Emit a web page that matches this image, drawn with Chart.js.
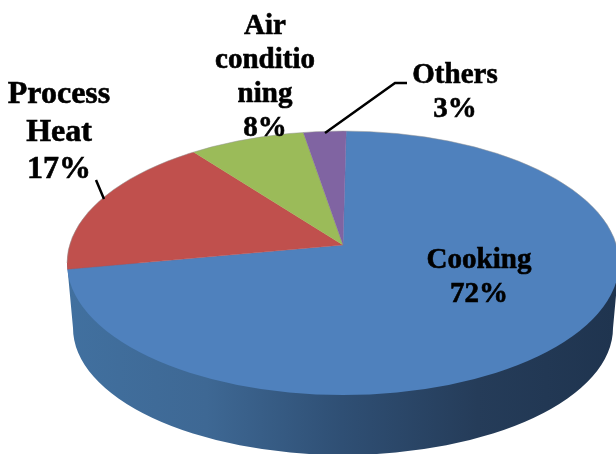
<!DOCTYPE html>
<html>
<head>
<meta charset="utf-8">
<style>
  html, body { margin: 0; padding: 0; background: #fff; }
  #wrap { position: relative; width: 616px; height: 454px; overflow: hidden; }
</style>
<script src="https://cdn.jsdelivr.net/npm/chart.js@4/dist/chart.umd.min.js"></script>
</head>
<body>
<div id="wrap"><canvas id="chart_pie" width="616" height="454"></canvas></div>
<script>
/* ------------------
  data
-------------------*/
var categories = ['Cooking', 'Process Heat', 'Air conditioning', 'Others'];
var shares = [72, 17, 8, 3];
var sliceColors = ['#4f81bd', '#c0504d', '#9bbb59', '#8064a2'];

// the text wrapped the way the picture wraps it
var cookingLines = ['Cooking', '72%'];
var processLines = ['Process', 'Heat', '17%'];
var airLines = ['Air', 'conditio', 'ning', '8%'];
var othersLines = ['Others', '3%'];

/* ------------------
  fake 3d look
-------------------*/
var tilt = 0.5;                                     // squash of the pie
var topFace = { x: 343, y: 263, rx: 276, ry: 132 }; // visible rim of the pie
var baseFace = { x: 343, y: 328, rx: 270, ry: 127 };

var pie3d = {
  id: 'pie3d',
  beforeDatasetsDraw: function (chart) {
    var ctx = chart.ctx;
    var arc = chart.getDatasetMeta(0).data[0];

    // side wall
    var wall = ctx.createLinearGradient(70, 0, 614, 0);
    wall.addColorStop(0, '#41709f');
    wall.addColorStop(0.25, '#3e6894');
    wall.addColorStop(0.5, '#2f4f74');
    wall.addColorStop(0.75, '#253c59');
    wall.addColorStop(1, '#1f344f');
    ctx.save();
    ctx.beginPath();
    ctx.moveTo(topFace.x - topFace.rx, topFace.y);
    ctx.lineTo(baseFace.x - baseFace.rx, baseFace.y);
    ctx.ellipse(baseFace.x, baseFace.y, baseFace.rx, baseFace.ry, 0, Math.PI, 0, true);
    ctx.lineTo(topFace.x + topFace.rx, topFace.y);
    ctx.closePath();
    ctx.fillStyle = wall;
    ctx.fill();
    ctx.restore();

    // slices: apex sits above the rim centre, the rim cuts them off
    ctx.save();
    ctx.beginPath();
    ctx.ellipse(topFace.x, topFace.y, topFace.rx, topFace.ry, 0, 0, Math.PI * 2);
    ctx.clip();
    ctx.translate(arc.x, arc.y);
    ctx.scale(1, tilt);
    ctx.translate(-arc.x, -arc.y);
  },
  afterDatasetsDraw: function (chart) {
    var ctx = chart.ctx;
    ctx.restore();

    // soft grey rim on the back edge
    ctx.save();
    ctx.beginPath();
    ctx.ellipse(topFace.x, topFace.y, topFace.rx, topFace.ry, 0, Math.PI, 0);
    ctx.strokeStyle = 'rgba(150,150,150,0.5)';
    ctx.lineWidth = 1;
    ctx.stroke();

    // leader lines
    ctx.strokeStyle = '#000';
    ctx.lineWidth = 2.5;
    ctx.beginPath();
    ctx.moveTo(96, 180);
    ctx.lineTo(104, 199);
    ctx.moveTo(407, 83);
    ctx.lineTo(395, 83);
    ctx.lineTo(325, 133);
    ctx.stroke();

    // labels
    drawLines(ctx, cookingLines, 479, 268, 34, 29);
    drawLines(ctx, processLines, 59, 103, 37.5, 32);
    drawLines(ctx, airLines, 265, 34, 34, 29);
    drawLines(ctx, othersLines, 455, 83, 34, 29);
    ctx.restore();
  }
};

function drawLines(ctx, lines, x, y, step, size) {
  ctx.font = 'bold ' + size + 'px "Liberation Serif"';
  ctx.fillStyle = '#000';
  ctx.strokeStyle = '#000';
  ctx.lineWidth = 0.6;
  ctx.textAlign = 'center';
  ctx.textBaseline = 'alphabetic';
  lines.forEach(function (line, i) {
    ctx.fillText(line, x, y + i * step);
    ctx.strokeText(line, x, y + i * step);
  });
}

/* ------------------
  pie chart
-------------------*/
new Chart(document.getElementById('chart_pie'), {
  type: 'pie',
  data: {
    labels: categories,
    datasets: [
      {
        data: shares,
        backgroundColor: sliceColors,
        borderColor: sliceColors,
        borderWidth: 0.5,
        clip: false
      }
    ]
  },
  options: {
    responsive: false,
    animation: false,
    radius: 330,
    rotation: 0.8,
    layout: { padding: { left: 70, top: 36 } },
    plugins: {
      legend: { display: false },
      tooltip: { enabled: false }
    }
  },
  plugins: [pie3d]
});
</script>
</body>
</html>
